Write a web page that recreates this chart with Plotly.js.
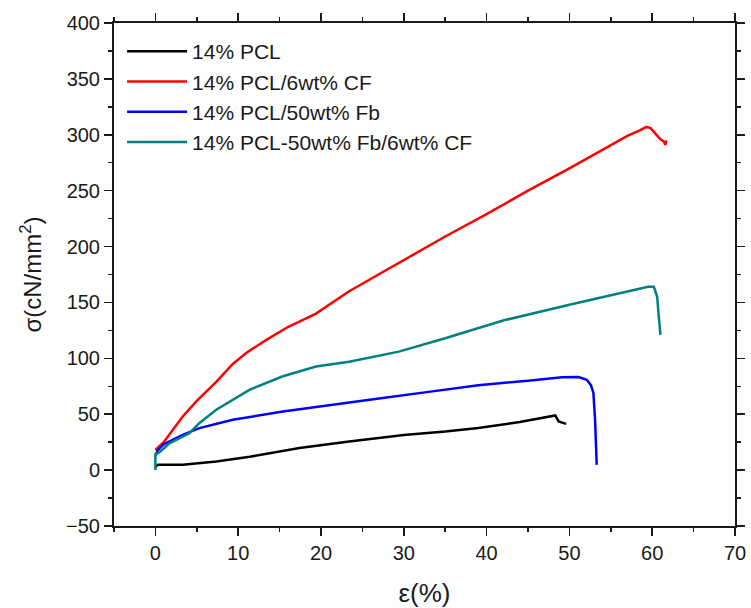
<!DOCTYPE html>
<html>
<head>
<meta charset="utf-8">
<script src="https://cdn.plot.ly/plotly-3.0.1.min.js"></script>
<style>html,body{margin:0;padding:0;background:#fff;}#chart{width:751px;height:608px;}</style>
</head>
<body>
<div id="chart"></div>
<script>
// Series names
const seriesNames = ["14% PCL", "14% PCL/6wt% CF", "14% PCL/50wt% Fb", "14% PCL-50wt% Fb/6wt% CF"];

// 14% PCL
const strainPCL = [0, 0.3, 3.3, 7.35, 11.4, 17.4, 23.4, 27, 30, 35, 39, 44, 48.3, 48.7, 49.3, 49.6];
const stressPCL = [3, 4.7, 4.7, 7.7, 12, 19.7, 25.6, 28.5, 31.5, 34.5, 37.6, 43, 48.9, 43.5, 42, 41.4];

// 14% PCL/6wt% CF
const strainCF = [0, 1, 3.3, 5, 7.35, 9.35, 11, 13.4, 16, 19.4, 23.4, 27, 30, 35, 40, 45, 50, 55, 57, 58.5, 59.3, 59.8, 60.3, 61, 61.4, 61.6, 61.7];
const stressCF = [18, 25, 48, 62, 79, 95, 105, 116.5, 128, 140, 160, 175, 188, 209, 229, 250, 270, 291, 299, 304, 307, 306, 302, 296, 294, 291, 295];

// 14% PCL/50wt% Fb
const strainFb = [0, 0.3, 1, 3.3, 5.3, 9.35, 15.4, 23.4, 27, 33, 39, 45, 49.1, 51.1, 52.1, 52.6, 52.9, 53.1, 53.3];
const stressFb = [13, 18, 23, 31.6, 37.6, 45, 52.4, 60, 64, 70, 76, 80, 83, 83.2, 80.8, 76, 69, 45, 4.7];

// 14% PCL-50wt% Fb/6wt% CF
const strainFbCF = [0, 0, 0.5, 1.7, 4.1, 5.3, 7.35, 11.4, 15.4, 19.4, 23.4, 27, 29.4, 35, 42.1, 50, 57.1, 59.5, 60.2, 60.6, 60.8, 61];
const stressFbCF = [0, 14, 16, 24, 33, 42, 54, 72, 84, 92.7, 97, 102, 106, 118, 134, 148, 160, 164, 164, 155, 137, 121];

const colors = ["#000000", "#ff0000", "#0000ff", "#008080"];

const xs = [strainPCL, strainCF, strainFb, strainFbCF];
const ys = [stressPCL, stressCF, stressFb, stressFbCF];

const traces = seriesNames.map((n, i) => ({
  type: "scatter", mode: "lines", name: n,
  x: xs[i], y: ys[i],
  line: {color: colors[i], width: 2.5}
}));

const axisColor = "#1a1a1a";
const font = "Liberation Sans, Arial, sans-serif";

const layout = {
  width: 751, height: 608,
  margin: {l: 114, r: 16, t: 23, b: 82},
  paper_bgcolor: "#fff", plot_bgcolor: "#fff",
  font: {family: font, color: "#1a1a1a"},
  showlegend: true,
  legend: {x: 0.013, y: 0.984, xanchor: "left", yanchor: "top", bgcolor: "rgba(0,0,0,0)",
           font: {size: 21, family: font, color: "#1a1a1a"}, itemwidth: 60, tracegroupgap: 0},
  xaxis: {
    type: "linear", range: [-5, 70], tick0: 0, dtick: 10, showgrid: false, zeroline: false,
    ticks: "outside", ticklen: 8, tickwidth: 1.5, tickcolor: axisColor,
    minor: {dtick: 5, ticks: "outside", ticklen: 4, tickwidth: 1.5, tickcolor: axisColor, showgrid: false},
    showline: true, linewidth: 2, linecolor: axisColor, mirror: "ticks",
    tickfont: {size: 20, family: font},
    title: {text: "ε(%)", font: {size: 26, family: font}, standoff: 22}
  },
  yaxis: {
    type: "linear", range: [-50, 400], tick0: 0, dtick: 50, showgrid: false, zeroline: false,
    ticks: "outside", ticklen: 8, tickwidth: 1.5, tickcolor: axisColor,
    minor: {dtick: 25, ticks: "outside", ticklen: 4, tickwidth: 1.5, tickcolor: axisColor, showgrid: false},
    showline: true, linewidth: 2, linecolor: axisColor, mirror: "ticks",
    tickfont: {size: 20, family: font},
    title: {text: "σ(cN/mm<sup>2</sup>)", font: {size: 24, family: font}, standoff: 18}
  }
};

Plotly.newPlot("chart", traces, layout, {displayModeBar: false, staticPlot: true});
</script>
</body>
</html>
